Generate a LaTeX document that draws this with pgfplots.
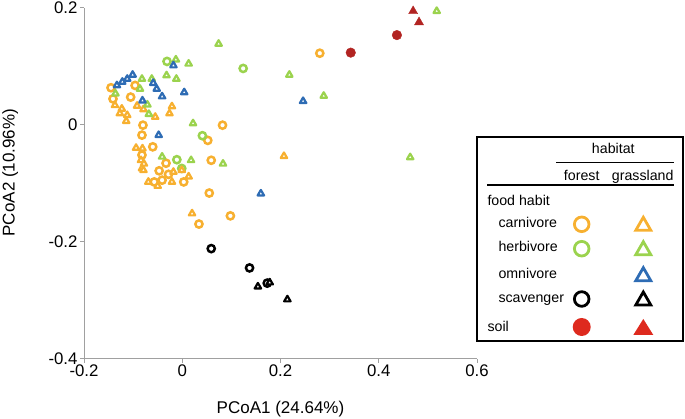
\documentclass[border=0pt]{standalone}
\usepackage{pgfplots}
\pgfplotsset{compat=1.18}
\usepackage{fontspec}
\setmainfont{Liberation Sans}
\definecolor{cOr}{RGB}{247,176,48}
\definecolor{cGr}{RGB}{155,211,78}
\definecolor{cBl}{RGB}{46,108,180}
\definecolor{cRd}{RGB}{178,36,34}
\definecolor{cRdL}{RGB}{222,42,30}
\definecolor{axgray}{RGB}{160,160,160}
\pgfplotsset{
  ringc/.style={only marks, mark=*, mark size=3.6pt, mark options={draw=#1, fill=white, line width=2.5pt}},
  ringt/.style={only marks, mark=triangle*, mark size=3.7pt, mark options={draw=#1, fill=white, line width=2.2pt, line join=round}},
}
\begin{document}
\begin{tikzpicture}
\path[use as bounding box] (0pt,0pt) rectangle (685pt,419pt);
\begin{axis}[
  at={(84pt,60.4pt)}, anchor=south west,
  scale only axis, width=393pt, height=351pt,
  xmin=-0.2, xmax=0.6, ymin=-0.4, ymax=0.2,
  axis x line=bottom, axis y line=left,
  axis line style={draw=axgray, line width=0.8pt, -},
  xtick={-0.2,0,0.2,0.4,0.6}, ytick={-0.4,-0.2,0,0.2},
  tick align=outside, major tick length=4pt,
  tick style={draw=axgray, line width=0.8pt},
  tick label style={font=\fontsize{16.8}{18}\selectfont, text=black},
  xticklabel style={yshift=1.5pt},
  yticklabel style={xshift=1pt},
  /pgf/number format/.cd, fixed, precision=1, assume math mode=true, /pgfplots/.cd,
  xlabel={PCoA1 (24.64\%)}, ylabel={PCoA2 (10.96\%)},
  label style={font=\fontsize{17}{19}\selectfont},
  xlabel style={at={(axis description cs:0.5,-0.144)}, anchor=center},
  ylabel style={at={(axis description cs:-0.188,0.53)}, anchor=center},
  clip=false,
]
% forest carnivore
\addplot[ringc=cOr] coordinates {
(-0.145,0.063) (-0.141,0.044) (-0.096,0.067) (-0.105,0.047)
(-0.080,-0.001) (-0.082,-0.018) (-0.060,-0.038) (-0.082,-0.052)
(-0.033,-0.066) (-0.047,-0.079) (-0.028,-0.085) (-0.041,-0.095)
(0.003,-0.098) (-0.057,-0.098) (0.082,-0.001) (0.052,-0.027)
(0.059,-0.061) (0.055,-0.117) (0.098,-0.156) (0.034,-0.170)
(0.280,0.122)
};
% forest herbivore
\addplot[ringc=cGr] coordinates {
(-0.031,0.108) (0.124,0.096) (0.041,-0.019) (-0.011,-0.060) (-0.001,-0.075)
};
% forest scavenger
\addplot[ringc=black] coordinates {
(0.059,-0.212) (0.137,-0.245) (0.173,-0.271)
};
% grassland carnivore
\addplot[ringt=cOr] coordinates {
(-0.137,0.033) (-0.123,0.027) (-0.127,0.019) (-0.112,0.016) (-0.114,0.006)
(-0.092,0.032) (-0.079,0.026) (-0.055,0.013) (-0.021,0.031) (-0.026,0.019)
(-0.094,-0.040) (-0.081,-0.041) (-0.084,-0.061) (-0.078,-0.067) (-0.082,-0.075)
(-0.079,-0.078) (-0.018,-0.081) (-0.001,-0.078) (0.013,-0.089) (-0.021,-0.098)
(-0.069,-0.098) (-0.050,-0.105) (0.020,-0.152) (0.207,-0.054)
};
% grassland herbivore
\addplot[ringt=cGr] coordinates {
(0.518,0.194) (0.288,0.049) (0.464,-0.056) (0.074,0.138) (0.013,0.104)
(0.218,0.085) (0.022,0.002) (0.018,-0.061) (0.083,-0.067) (-0.013,0.111)
(-0.032,0.084) (-0.012,0.078) (-0.082,0.078) (-0.062,0.078) (-0.136,0.053)
(-0.086,0.061) (-0.071,0.034) (-0.068,0.018) (-0.041,-0.055)
};
% grassland omnivore
\addplot[ringt=cBl] coordinates {
(-0.133,0.067) (-0.122,0.073) (-0.112,0.078) (-0.101,0.085) (-0.059,0.071)
(-0.052,0.061) (-0.041,0.048) (-0.018,0.101) (0.004,0.055) (-0.081,0.041)
(-0.048,-0.018) (0.160,-0.118) (0.246,0.040)
};
% grassland scavenger
\addplot[ringt=black] coordinates {
(0.154,-0.277) (0.178,-0.270) (0.214,-0.299)
};
% soil forest
\addplot[only marks, mark=*, mark size=4.8pt, mark options={draw=cRd, fill=cRd, line width=0.4pt}] coordinates {
(0.437,0.153) (0.343,0.123)
};
% soil grassland
\addplot[only marks, mark=triangle*, mark size=5.2pt, mark options={draw=cRd, fill=cRd, line width=0.4pt}] coordinates {
(0.470,0.194) (0.482,0.175)
};
\end{axis}
% legend
\draw[line width=1.4pt] (477pt,78pt) rectangle (683pt,282pt);
\begin{scope}[every node/.style={font=\fontsize{14.2}{16}\selectfont, inner sep=0pt}]
\node[anchor=base] at (613.3pt,265pt) {habitat};
\draw[line width=1.1pt] (556pt,256.7pt) -- (674.3pt,256.7pt);
\node[anchor=base] at (581.7pt,238.8pt) {forest};
\node[anchor=base] at (642.7pt,238.8pt) {grassland};
\draw[line width=1.1pt] (487.3pt,234pt) -- (674.3pt,234pt);
\node[anchor=base west] at (487.3pt,213.3pt) {food habit};
\node[anchor=base west] at (498.3pt,191.6pt) {carnivore};
\node[anchor=base west] at (498.3pt,167pt) {herbivore};
\node[anchor=base west] at (498.3pt,140.3pt) {omnivore};
\node[anchor=base west] at (498.3pt,116pt) {scavenger};
\node[anchor=base west] at (487.3pt,87pt) {soil};
\end{scope}
\draw[cOr, line width=2.8pt] (581.7pt,194.7pt) circle (7.3pt);
\draw[cGr, line width=2.8pt] (581.7pt,170.3pt) circle (7.3pt);
\draw[black, line width=2.8pt] (581.7pt,120pt) circle (7.3pt);
\fill[cRdL] (581.7pt,92pt) circle (9pt);
\foreach \yy/\cc in {194.7/cOr, 170.3/cGr, 144.3/cBl, 120/black} {
  \draw[\cc, line width=2.8pt, line join=miter] (635.8pt,\yy pt-6pt) -- (650.8pt,\yy pt-6pt) -- (643.3pt,\yy pt+7pt) -- cycle;
}
\fill[cRdL] (633.3pt,84pt) -- (653.3pt,84pt) -- (643.3pt,100pt) -- cycle;
\end{tikzpicture}
\end{document}
